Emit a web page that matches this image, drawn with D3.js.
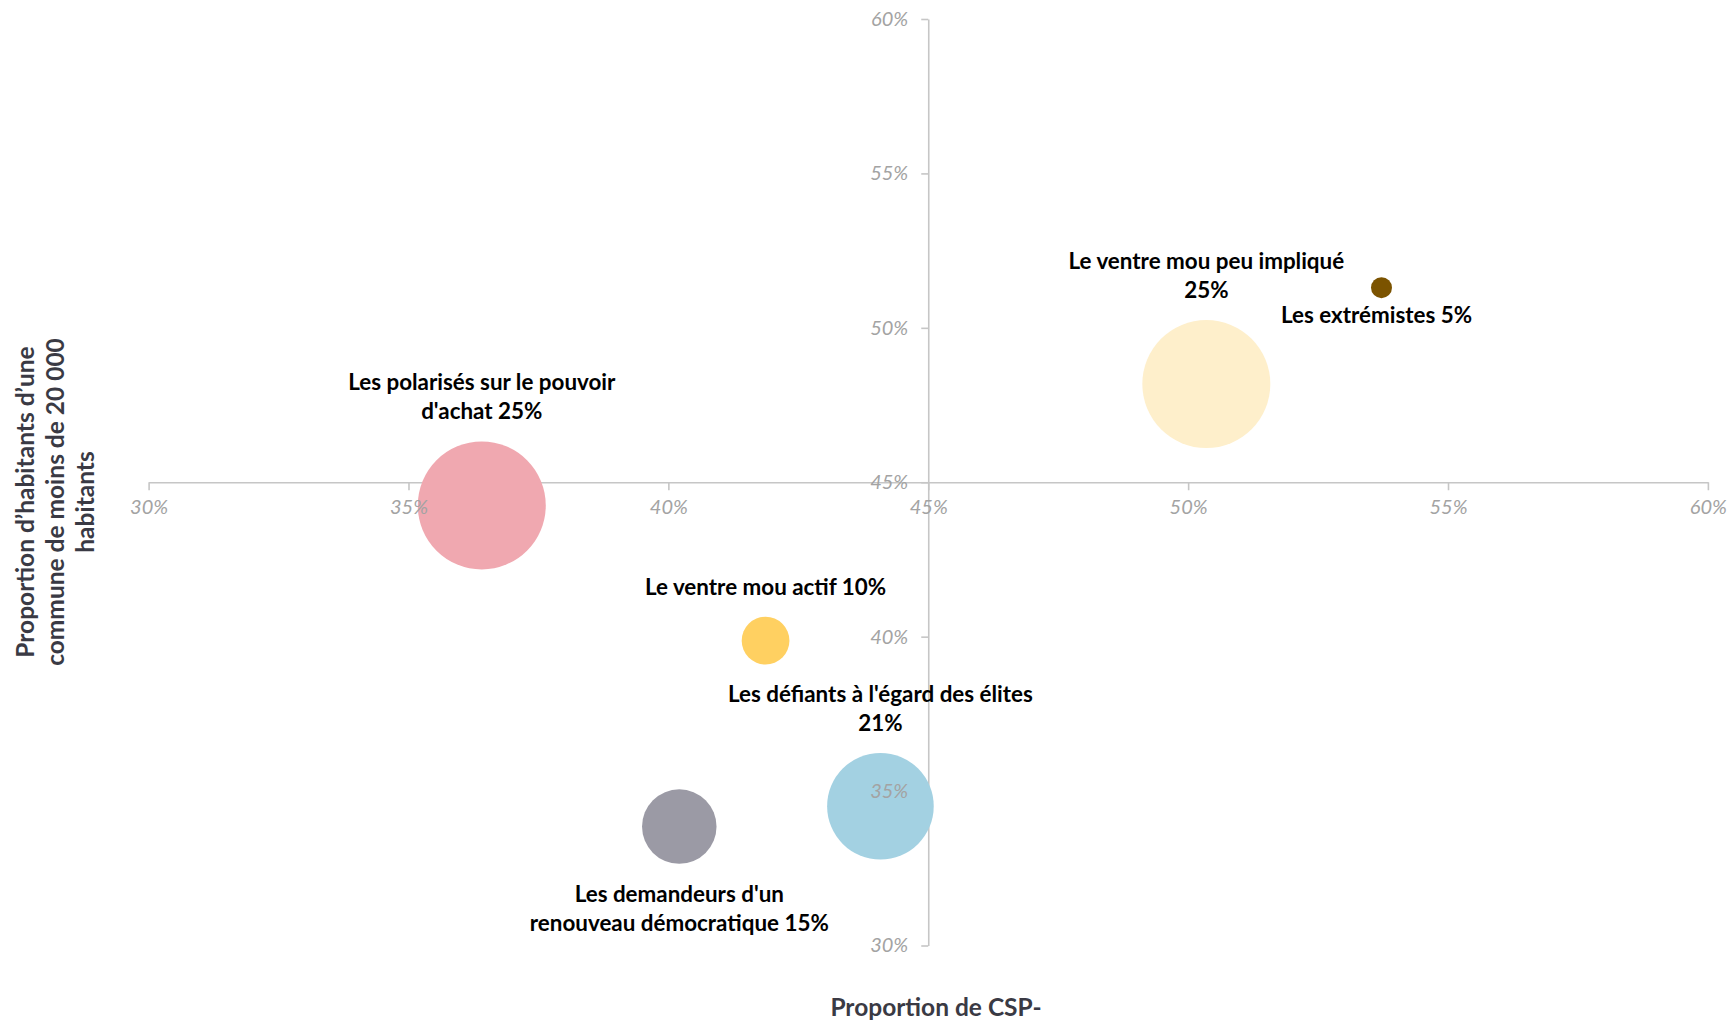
<!DOCTYPE html>
<html>
<head>
<meta charset="utf-8">
<script src="https://cdn.jsdelivr.net/npm/d3@7"></script>
<style>
  html, body { margin: 0; padding: 0; background: #fff; }
  svg { display: block; }
</style>
</head>
<body>
<svg id="chart" width="1730" height="1021"></svg>
<script>
// ---- Data ----
const segments = [
  "Les polarisés sur le pouvoir d'achat",
  "Le ventre mou peu impliqué",
  "Les extrémistes",
  "Le ventre mou actif",
  "Les défiants à l'égard des élites",
  "Les demandeurs d'un renouveau démocratique"
];
const cspShare   = [0.3641, 0.5035, 0.5372, 0.4187, 0.4408, 0.4021];   // x: Proportion de CSP-
const smallTown  = [0.4425, 0.4818, 0.5130, 0.3987, 0.3451, 0.3385];   // y: < 20 000 habitants
const weight     = [25, 25, 5, 10, 21, 15];                            // bubble size (%)
const labelLines = [
  ["Les polarisés sur le pouvoir", "d'achat 25%"],
  ["Le ventre mou peu impliqué", "25%"],
  ["Les extrémistes 5%"],
  ["Le ventre mou actif 10%"],
  ["Les défiants à l'égard des élites", "21%"],
  ["Les demandeurs d'un", "renouveau démocratique 15%"]
];
const colors = ["#F0A8B0", "#FEEFCB", "#7B5300", "#FFD061", "#A3D1E2", "#9B9AA5"];
const xTicks = [0.30, 0.35, 0.40, 0.45, 0.50, 0.55, 0.60];
const yTicks = [0.30, 0.35, 0.40, 0.45, 0.50, 0.55, 0.60];
const xTitle = "Proportion de CSP-";
const yTitle = ["Proportion d’habitants d’une", "commune de moins de 20 000", "habitants"];

// ---- Layout ----
const svg = d3.select("#chart");
const x = d3.scaleLinear().domain([0.30, 0.60]).range([148.6, 1707.9]);
const y = d3.scaleLinear().domain([0.30, 0.60]).range([945.5, 19]);
const r = d3.scaleLinear().domain([5, 25]).range([10.5, 64]);
const fmt = d3.format(".0%");
const axisColor = "#C6C6C6";
const tickColor = "#A3A3A3";
const lineH = 29;
const font = "Lato, 'Open Sans', sans-serif";
// label placement: side relative to bubble, with extra offsets
const labelLayout = [
  {side: "above", dx: 0, dy: 0},
  {side: "above", dx: 0, dy: 0},
  {side: "below", dx: -5, dy: 0},
  {side: "above", dx: 0, dy: 0},
  {side: "above", dx: 0, dy: 0},
  {side: "below", dx: 0, dy: 14}
];

const xAxis = d3.axisBottom(x).tickValues(xTicks).tickFormat(fmt).tickSize(8).tickSizeOuter(0).tickPadding(10);
const yAxis = d3.axisLeft(y).tickValues(yTicks).tickFormat(fmt).tickSize(7).tickSizeOuter(0).tickPadding(13);

function styleAxis(g, keep) {
  g.attr("font-family", font).attr("font-size", 20);
  g.select(".domain").attr("stroke", axisColor).attr("stroke-width", 1.6);
  g.selectAll(".tick line").attr("stroke", axisColor).attr("stroke-width", 1.6);
  g.selectAll(".tick text").attr("fill", tickColor).attr("font-style", "italic");
  if (keep === "lines") g.selectAll(".tick text").remove();
  if (keep === "text") { g.select(".domain").remove(); g.selectAll(".tick line").remove(); }
}

// axis lines (behind bubbles)
svg.append("g").attr("transform", `translate(0,${y(0.45)})`).call(xAxis).call(styleAxis, "lines");
svg.append("g").attr("transform", `translate(${x(0.45)},0)`).call(yAxis).call(styleAxis, "lines");

// bubbles
const idx = d3.range(segments.length);
svg.append("g").selectAll("circle").data(idx).join("circle")
  .attr("cx", i => x(cspShare[i]))
  .attr("cy", i => y(smallTown[i]))
  .attr("r", i => r(weight[i]))
  .attr("fill", i => colors[i]);

// tick labels (above bubbles)
svg.append("g").attr("transform", `translate(0,${y(0.45)})`).call(xAxis).call(styleAxis, "text");
svg.append("g").attr("transform", `translate(${x(0.45)},0)`).call(yAxis).call(styleAxis, "text");

// data labels
const lg = svg.append("g")
  .attr("font-family", font)
  .attr("font-weight", "bold").attr("font-size", 22.4).attr("fill", "#000")
  .attr("text-anchor", "middle");
idx.forEach(i => {
  const cx = x(cspShare[i]) + labelLayout[i].dx;
  const cy = y(smallTown[i]);
  const rad = r(weight[i]);
  const lines = labelLines[i];
  let firstBaseline;
  if (labelLayout[i].side === "above") {
    firstBaseline = cy - rad - 22 - (lines.length - 1) * lineH + labelLayout[i].dy;
  } else {
    firstBaseline = cy + rad + 24.5 + labelLayout[i].dy;
  }
  const t = lg.append("text").attr("x", cx).attr("y", firstBaseline);
  lines.forEach((ln, k) => {
    t.append("tspan").attr("x", cx).attr("dy", k === 0 ? 0 : lineH).text(ln);
  });
});

// axis titles
const titleColor = "#3A3A44";
svg.append("text")
  .attr("x", 936).attr("y", 1016)
  .attr("text-anchor", "middle")
  .attr("font-family", font)
  .attr("font-weight", "bold").attr("font-size", 24.5).attr("fill", titleColor)
  .text(xTitle);

const yt = svg.append("text")
  .attr("transform", "translate(34,502) rotate(-90)")
  .attr("text-anchor", "middle")
  .attr("font-family", font)
  .attr("font-weight", "bold").attr("font-size", 24.5).attr("fill", titleColor);
yTitle.forEach((ln, k) => {
  yt.append("tspan").attr("x", 0).attr("y", k * 30).text(ln);
});
</script>
</body>
</html>
